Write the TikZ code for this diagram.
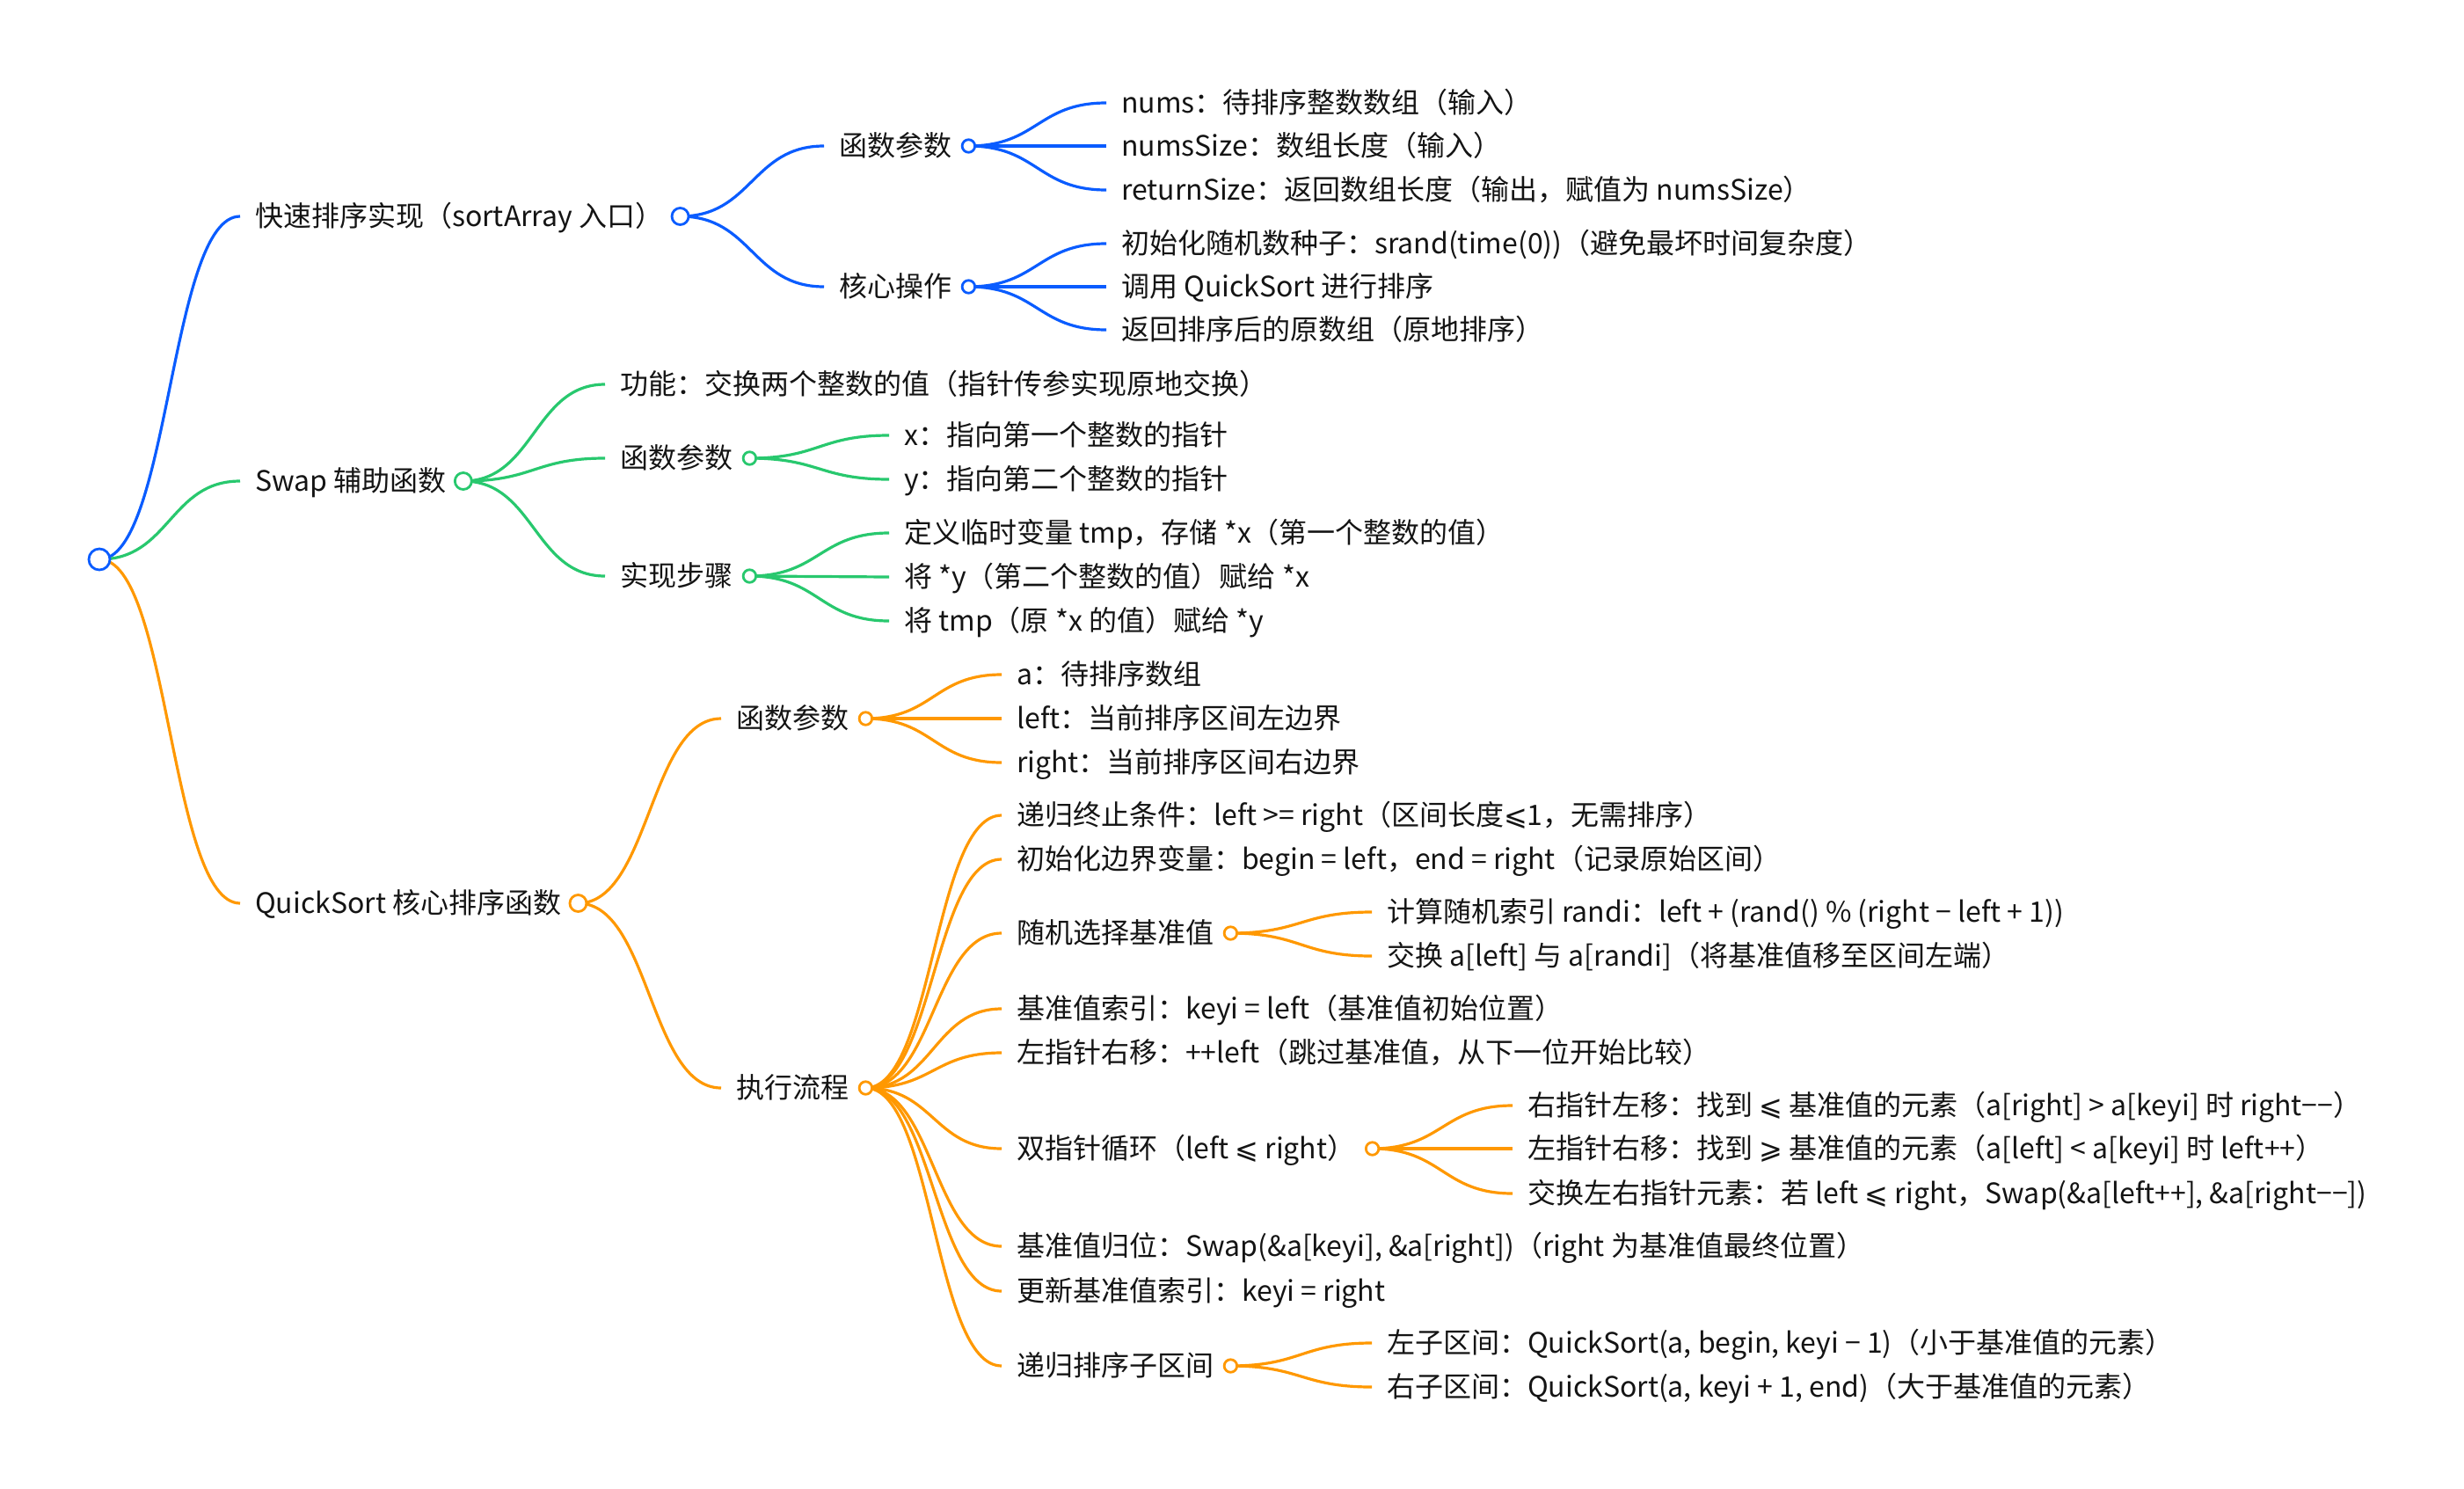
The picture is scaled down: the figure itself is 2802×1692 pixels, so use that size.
\documentclass[tikz,border=0pt]{standalone}
\usepackage{fontspec}
\setmainfont{Noto Sans CJK SC}
\newfontfamily\djv{DejaVu Sans}
\usetikzlibrary{calc}
\pgfdeclarelayer{bg}
\pgfsetlayers{bg,main}
\definecolor{cB}{RGB}{10,92,255}
\definecolor{cG}{RGB}{40,200,110}
\definecolor{cO}{RGB}{255,152,0}
\definecolor{txtc}{RGB}{20,20,20}
\newcommand\lesl{{\djv ⩽}}
\newcommand\gesl{{\djv ⩾}}
\newcommand\mlink[3]{\begin{pgfonlayer}{bg}\draw[link=#1] let \p1=(#2), \p2=(#3) in (\p1) .. controls ({(\x1+\x2)/2},\y1) and ({(\x1+\x2)/2},\y2) .. (\p2);\end{pgfonlayer}}
\tikzset{
 txt/.style={anchor=west, inner sep=0pt, text height=28pt, text depth=4.4pt, text=txtc, font=\fontsize{32}{38}\selectfont},
 dot/.style={circle, draw=#1, fill=white, line width=2.8pt, minimum size=14.5pt, inner sep=0pt},
 midot/.style={dot=#1, minimum size=19pt},
 rootdot/.style={dot=#1, minimum size=24pt},
 link/.style={draw=#1, line width=3.2pt},
}
\begin{document}
\begin{tikzpicture}[x=1pt,y=-1pt]
\useasboundingbox (0,0) rectangle (2802,1692);
\node[rootdot=cB] (root) at (113,636) {};
% ---------- A
\node[txt] (a) at (290,246) {快速排序实现（sortArray 入口）};
\node[midot=cB] (ac) at ($(a.east)+(19,0)$) {};
\node[txt] (a1) at (954,166) {函数参数};
\node[dot=cB] (a1c) at ($(a1.east)+(19,0)$) {};
\node[txt] (a11) at (1275,117) {nums：待排序整数数组（输入）};
\node[txt] (a12) at (1275,166) {numsSize：数组长度（输入）};
\node[txt] (a13) at (1275,216) {returnSize：返回数组长度（输出，赋值为 numsSize）};
\node[txt] (a2) at (954,326) {核心操作};
\node[dot=cB] (a2c) at ($(a2.east)+(19,0)$) {};
\node[txt] (a21) at (1275,277) {初始化随机数种子：srand(time(0))（避免最坏时间复杂度）};
\node[txt] (a22) at (1275,326) {调用 QuickSort 进行排序};
\node[txt] (a23) at (1275,375) {返回排序后的原数组（原地排序）};
% ---------- B
\node[txt] (b) at (290,547) {Swap 辅助函数};
\node[midot=cG] (bc) at ($(b.east)+(19,0)$) {};
\node[txt] (b1) at (705,437) {功能：交换两个整数的值（指针传参实现原地交换）};
\node[txt] (b2) at (705,521) {函数参数};
\node[dot=cG] (b2c) at ($(b2.east)+(19,0)$) {};
\node[txt] (b21) at (1028,495) {x：指向第一个整数的指针};
\node[txt] (b22) at (1028,545) {y：指向第二个整数的指针};
\node[txt] (b3) at (705,655) {实现步骤};
\node[dot=cG] (b3c) at ($(b3.east)+(19,0)$) {};
\node[txt] (b31) at (1028,606) {定义临时变量 tmp，存储 *x（第一个整数的值）};
\node[txt] (b32) at (1028,656) {将 *y（第二个整数的值）赋给 *x};
\node[txt] (b33) at (1028,706) {将 tmp（原 *x 的值）赋给 *y};
% ---------- C
\node[txt] (c) at (290,1027) {QuickSort 核心排序函数};
\node[midot=cO] (cc) at ($(c.east)+(19,0)$) {};
\node[txt] (c1) at (837,817) {函数参数};
\node[dot=cO] (c1c) at ($(c1.east)+(19,0)$) {};
\node[txt] (c11) at (1156,767) {a：待排序数组};
\node[txt] (c12) at (1156,817) {left：当前排序区间左边界};
\node[txt] (c13) at (1156,867) {right：当前排序区间右边界};
\node[txt] (c2) at (837,1237) {执行流程};
\node[dot=cO] (c2c) at ($(c2.east)+(19,0)$) {};
\node[txt] (d1) at (1156,927) {递归终止条件：left >= right（区间长度\lesl 1，无需排序）};
\node[txt] (d2) at (1156,977) {初始化边界变量：begin = left，end = right（记录原始区间）};
\node[txt] (d3) at (1156,1061) {随机选择基准值};
\node[dot=cO] (d3c) at ($(d3.east)+(19,0)$) {};
\node[txt] (d31) at (1577,1037) {计算随机索引 randi：left + (rand() \% (right − left + 1))};
\node[txt] (d32) at (1577,1087) {交换 a[left] 与 a[randi]（将基准值移至区间左端）};
\node[txt] (d4) at (1156,1147) {基准值索引：keyi = left（基准值初始位置）};
\node[txt] (d5) at (1156,1197) {左指针右移：++left（跳过基准值，从下一位开始比较）};
\node[txt] (d6) at (1156,1306) {双指针循环（left \lesl{} right）};
\node[dot=cO] (d6c) at ($(d6.east)+(19,0)$) {};
\node[txt] (d61) at (1737,1257) {右指针左移：找到 \lesl{} 基准值的元素（a[right] > a[keyi] 时 right−−）};
\node[txt] (d62) at (1737,1306) {左指针右移：找到 \gesl{} 基准值的元素（a[left] < a[keyi] 时 left++）};
\node[txt] (d63) at (1737,1357) {交换左右指针元素：若 left \lesl{} right，Swap(\&a[left++], \&a[right−−])};
\node[txt] (d7) at (1156,1417) {基准值归位：Swap(\&a[keyi], \&a[right])（right 为基准值最终位置）};
\node[txt] (d8) at (1156,1468) {更新基准值索引：keyi = right};
\node[txt] (d9) at (1156,1553) {递归排序子区间};
\node[dot=cO] (d9c) at ($(d9.east)+(19,0)$) {};
\node[txt] (d91) at (1577,1527) {左子区间：QuickSort(a, begin, keyi − 1)（小于基准值的元素）};
\node[txt] (d92) at (1577,1577) {右子区间：QuickSort(a, keyi + 1, end)（大于基准值的元素）};
% ---------- links
\mlink{cB}{root.center}{[xshift=-17pt]a.west}
\mlink{cG}{root.center}{[xshift=-17pt]b.west}
\mlink{cO}{root.center}{[xshift=-17pt]c.west}
\foreach \pn/\cn in {ac/a1,ac/a2,a1c/a11,a1c/a12,a1c/a13,a2c/a21,a2c/a22,a2c/a23}{\mlink{cB}{\pn.center}{[xshift=-17pt]\cn.west}}
\foreach \pn/\cn in {bc/b1,bc/b2,bc/b3,b2c/b21,b2c/b22,b3c/b31,b3c/b32,b3c/b33}{\mlink{cG}{\pn.center}{[xshift=-17pt]\cn.west}}
\foreach \pn/\cn in {cc/c1,cc/c2,c1c/c11,c1c/c12,c1c/c13,c2c/d1,c2c/d2,c2c/d3,c2c/d4,c2c/d5,c2c/d6,c2c/d7,c2c/d8,c2c/d9,d3c/d31,d3c/d32,d6c/d61,d6c/d62,d6c/d63,d9c/d91,d9c/d92}{\mlink{cO}{\pn.center}{[xshift=-17pt]\cn.west}}
\end{tikzpicture}
\end{document}
